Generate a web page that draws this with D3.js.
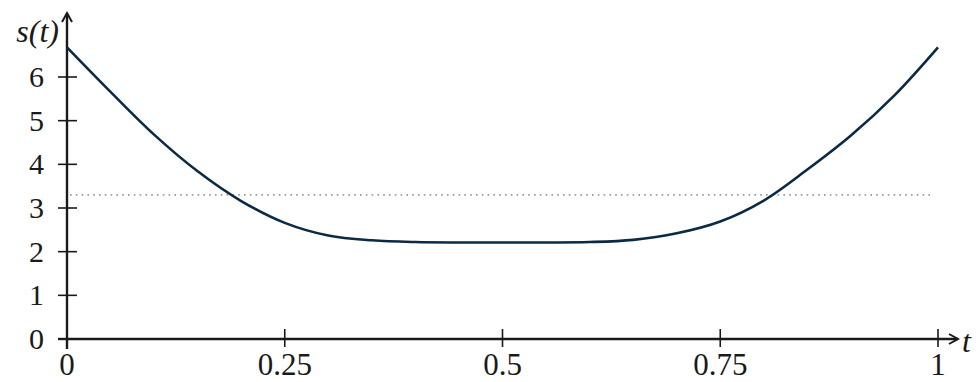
<!DOCTYPE html>
<html><head><meta charset="utf-8">
<script src="https://cdn.jsdelivr.net/npm/d3@7"></script>
<style>body{margin:0;background:#fff}</style>
</head><body><svg id="c" width="976" height="382" font-family="Liberation Serif"></svg>
<script>
const tValues = [0,0.05,0.1,0.15,0.2,0.25,0.3,0.35,0.4,0.45,0.5,0.55,0.6,0.65,0.7,0.75,0.8,0.85,0.9,0.95,1];
const sValues = [6.68,5.66,4.68,3.84,3.16,2.66,2.37,2.26,2.22,2.21,2.21,2.21,2.22,2.27,2.42,2.69,3.17,3.88,4.66,5.58,6.68];
const xTicks = [0,0.25,0.5,0.75,1];
const xTickLabels = ["0","0.25","0.5","0.75","1"];
const yTicks = [0,1,2,3,4,5,6];
const refLevel = [3.3];

const FONT = '"Liberation Serif"';
const svg = d3.select("#c");
const x = d3.scaleLinear().domain([0,1]).range([67,938]);
const y = d3.scaleLinear().domain([0,6]).range([339,77]);

// dotted reference line
svg.selectAll(".ref").data(refLevel).enter().append("line")
  .attr("x1", x(0)+3).attr("x2", x(0.9943)).attr("y1", d=>y(d)).attr("y2", d=>y(d))
  .attr("stroke","#9a9a9a").attr("stroke-width",1.6).attr("stroke-dasharray","1.6,4.2");

// axes
const ax = svg.append("g").attr("stroke","#1a1a1a").attr("stroke-width",2.4).attr("fill","none");
ax.append("line").attr("x1",x(0)).attr("x2",958).attr("y1",y(0)).attr("y2",y(0));
ax.append("line").attr("x1",x(0)).attr("x2",x(0)).attr("y1",y(0)+10).attr("y2",13);
ax.append("path").attr("d",`M${x(0)-5},22 L${x(0)},13 L${x(0)+5},22`).attr("stroke-width",2);
ax.append("path").attr("d",`M949,${y(0)-5} L958,${y(0)} L949,${y(0)+5}`).attr("stroke-width",2);

// ticks
const tg = svg.append("g").attr("stroke","#1a1a1a").attr("stroke-width",1.6);
tg.selectAll(".xt").data(xTicks.slice(1)).enter().append("line")
  .attr("x1",d=>x(d)).attr("x2",d=>x(d)).attr("y1",y(0)-10).attr("y2",y(0)+8);
tg.selectAll(".yt").data(yTicks.slice(1)).enter().append("line")
  .attr("x1",x(0)-9).attr("x2",x(0)+10).attr("y1",d=>y(d)).attr("y2",d=>y(d));
tg.append("line").attr("x1",x(0)-9).attr("x2",x(0)).attr("y1",y(0)).attr("y2",y(0)).attr("stroke-width",2.4);

// tick labels
svg.selectAll(".xl").data(xTicks).enter().append("text")
  .attr("x",d=>x(d)).attr("y",375).attr("text-anchor","middle")
  .attr("font-family","Liberation Serif").style("font-family",FONT).attr("font-size",31).attr("fill","#1a1a1a")
  .text((d,i)=>xTickLabels[i]);
svg.selectAll(".yl").data(yTicks).enter().append("text")
  .attr("x",44).attr("y",d=>y(d)+10).attr("text-anchor","end")
  .attr("font-family","Liberation Serif").style("font-family",FONT).attr("font-size",30).attr("fill","#1a1a1a")
  .text(d=>d);

// axis labels
svg.append("text").attr("x",59).attr("y",42).attr("text-anchor","end")
  .attr("font-family","Liberation Serif").style("font-family",FONT).attr("font-style","italic").attr("font-size",32).attr("fill","#1a1a1a").text("s(t)");
svg.append("text").attr("x",962).attr("y",352)
  .attr("font-family","Liberation Serif").style("font-family",FONT).attr("font-style","italic").attr("font-size",32).attr("fill","#1a1a1a").text("t");

// curve
const line = d3.line().x((d,i)=>x(tValues[i])).y(d=>y(d)).curve(d3.curveCatmullRom.alpha(0.5));
svg.append("path").datum(sValues).attr("d",line)
  .attr("fill","none").attr("stroke","#0b2a44").attr("stroke-width",2.6);
</script></body></html>
